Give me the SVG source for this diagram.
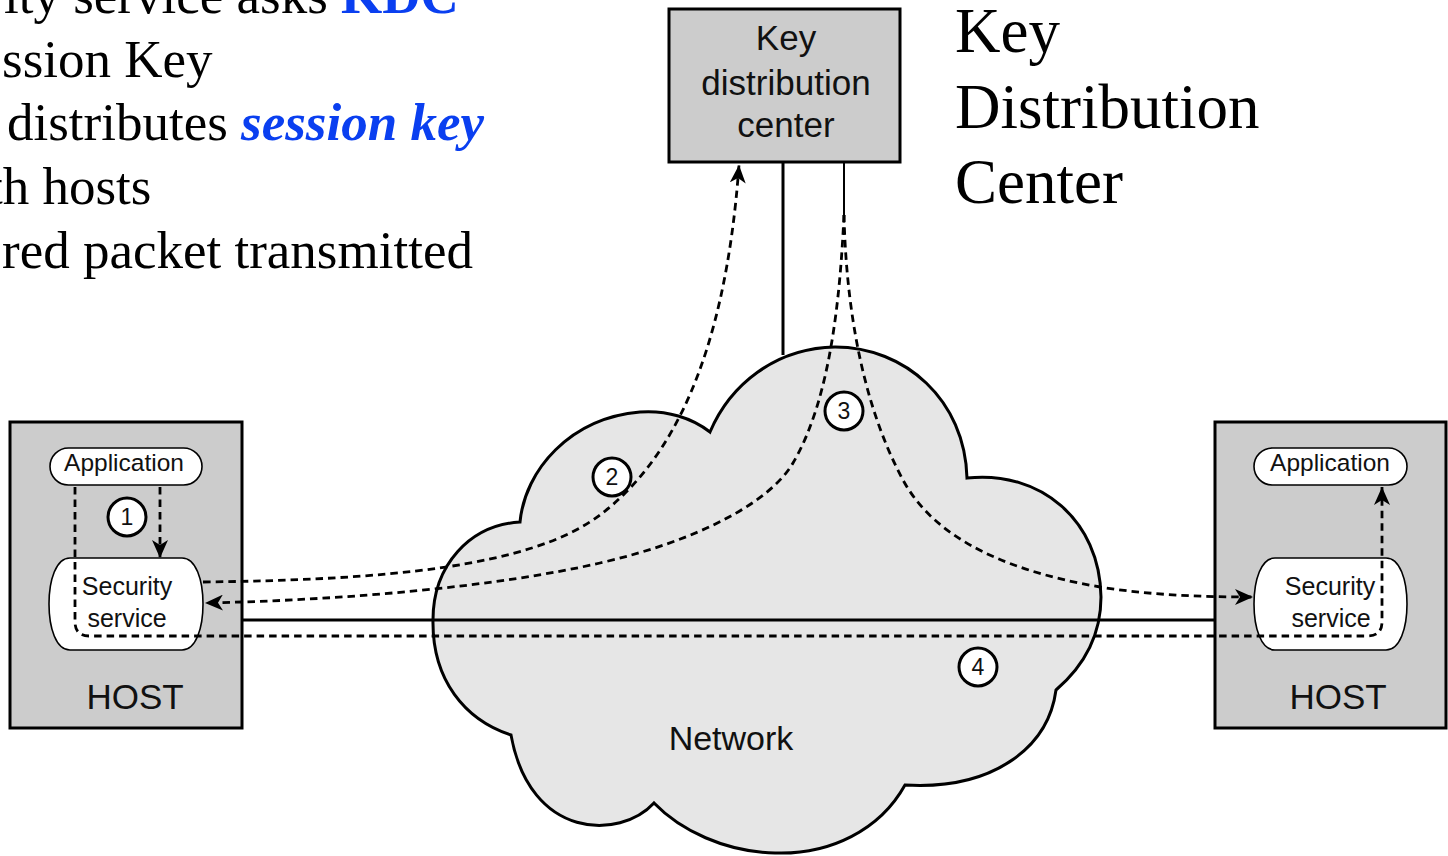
<svg xmlns="http://www.w3.org/2000/svg" width="1448" height="856" viewBox="0 0 1448 856">
<defs>
<style>
.box{fill:#cccccc;stroke:#000;stroke-width:3}
.pill{fill:#fff;stroke:#000;stroke-width:1.6}
.sans{font-family:"Liberation Sans",Arial,sans-serif;fill:#111}
.serif{font-family:"Liberation Serif","Times New Roman",serif;fill:#000}
.dash{fill:none;stroke:#000;stroke-width:2.8;stroke-dasharray:7.5 5}
.solid{fill:none;stroke:#000;stroke-width:3}
.num{fill:#fff;stroke:#000;stroke-width:3}
.blue{fill:#0a3ff0;font-weight:bold}
</style>
<marker id="ah" markerWidth="18" markerHeight="16" refX="18" refY="8" orient="auto" markerUnits="userSpaceOnUse">
<path d="M0,0 L18,8 L0,16 L5,8 Z" fill="#000"/>
</marker>
</defs>
<rect width="1448" height="856" fill="#fff"/>

<g id="slide-text" class="serif" font-size="53">
<text x="4" y="13">ity service asks <tspan class="blue">KDC</tspan></text>
<text x="2" y="77">ssion Key</text>
<text x="7" y="140">distributes <tspan class="blue" font-style="italic">session key</tspan></text>
<text x="-12" y="204">th hosts</text>
<text x="2" y="268">red packet transmitted</text>
</g>
<g id="kdc-title" class="serif" font-size="63">
<text x="955" y="52">Key</text>
<text x="955" y="128">Distribution</text>
<text x="955" y="203">Center</text>
</g>

<g id="network">
<path d="M520,522 C525,470 570,418 640,412 C667,410 692,418 710,432 C730,385 775,348 835,347 C905,347 965,400 967,478 C1040,470 1100,520 1101,597 C1101,635 1085,665 1056,690 C1048,750 990,790 905,785 C880,830 830,855 775,853 C725,852 680,830 654,803 C620,840 530,840 511,735 C465,720 432,680 433,620 C433,565 470,525 520,522 Z" fill="#e6e6e6" stroke="#000" stroke-width="3"/>
<text class="sans" x="731" y="750" font-size="34" text-anchor="middle">Network</text>
</g>

<g id="kdc">
<rect class="box" x="669" y="9" width="231" height="153"/>
<g class="sans" font-size="35" text-anchor="middle">
<text x="786" y="50">Key</text>
<text x="786" y="95">distribution</text>
<text x="786" y="137">center</text>
</g>
</g>

<g id="host-left">
<rect class="box" x="10" y="422" width="232" height="306"/>
<rect class="pill" x="50" y="448" width="152" height="37" rx="18.5"/>
<text class="sans" x="124" y="471" font-size="24.5" text-anchor="middle">Application</text>
<path class="pill" d="M70,558 H182 C196,558 203,580 203,604 C203,628 196,650 182,650 H70 C56,650 49,628 49,604 C49,580 56,558 70,558 Z"/>
<text class="sans" x="127" y="595" font-size="25" text-anchor="middle">Security</text>
<text class="sans" x="127" y="627" font-size="25" text-anchor="middle">service</text>
<text class="sans" x="135" y="709" font-size="35" text-anchor="middle">HOST</text>
</g>

<g id="host-right">
<rect class="box" x="1215" y="422" width="231" height="306"/>
<rect class="pill" x="1254" y="448" width="153" height="37" rx="18.5"/>
<text class="sans" x="1330" y="471" font-size="24.5" text-anchor="middle">Application</text>
<path class="pill" d="M1275,558 H1386 C1400,558 1407,580 1407,604 C1407,628 1400,650 1386,650 H1275 C1261,650 1254,628 1254,604 C1254,580 1261,558 1275,558 Z"/>
<text class="sans" x="1330" y="595" font-size="25" text-anchor="middle">Security</text>
<text class="sans" x="1331" y="627" font-size="25" text-anchor="middle">service</text>
<text class="sans" x="1338" y="709" font-size="35" text-anchor="middle">HOST</text>
</g>

<g id="connectors">
<line class="solid" x1="243" y1="620" x2="1215" y2="620"/>
<line class="solid" x1="783" y1="162" x2="783" y2="355"/>
<line x1="844" y1="162" x2="844" y2="216" stroke="#000" stroke-width="2"/>
<path class="dash" d="M160,487 L160,558" marker-end="url(#ah)"/>
<path class="dash" d="M75,487 L75,622 Q75,636 90,636 L1367,636 Q1382,636 1382,622 L1382,487" marker-end="url(#ah)"/>
<path class="dash" d="M203,582 C380,580 530,568 600,515 C670,462 725,360 739,165" marker-end="url(#ah)"/>
<path class="dash" d="M844,215 C840,300 830,400 793,463 C770,502 700,540 600,563 C500,586 350,600 205,603" marker-end="url(#ah)"/>
<path class="dash" d="M844,215 C846,300 860,400 903,480 C930,530 990,568 1100,587 C1150,595 1200,597 1253,597" marker-end="url(#ah)"/>
</g>

<g id="step-1"><circle class="num" cx="127" cy="517" r="19"/><text class="sans" x="127" y="525" font-size="23" text-anchor="middle">1</text></g>
<g id="step-2"><circle class="num" cx="612" cy="477" r="19"/><text class="sans" x="612" y="485" font-size="23" text-anchor="middle">2</text></g>
<g id="step-3"><circle class="num" cx="844" cy="411" r="19"/><text class="sans" x="844" y="419" font-size="23" text-anchor="middle">3</text></g>
<g id="step-4"><circle class="num" cx="978" cy="667" r="19"/><text class="sans" x="978" y="675" font-size="23" text-anchor="middle">4</text></g>
</svg>
